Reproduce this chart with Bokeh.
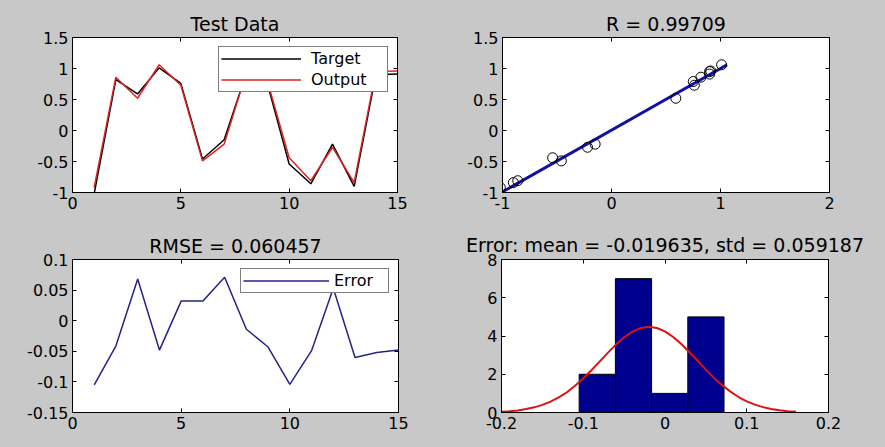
from bokeh.plotting import figure
from bokeh.layouts import column, row
from bokeh.models import (Range1d, FixedTicker, CustomJSTickFormatter, LinearAxis,
                          Legend, LegendItem)
from bokeh.embed import file_html
from bokeh.resources import INLINE

# ---------------- data ----------------
sample_idx = [1, 2, 3, 4, 5, 6, 7, 8, 9, 10, 11, 12, 13, 14, 15]
target = [-1.02, 0.82, 0.59, 1.01, 0.76, -0.46, -0.15, 0.90, 0.75, -0.54, -0.86, -0.22, -0.90, 0.90, 0.91]
output = [-0.92, 0.86, 0.52, 1.06, 0.73, -0.49, -0.22, 0.91, 0.79, -0.44, -0.81, -0.27, -0.84, 0.95, 0.96]
error = [-0.105, -0.041, 0.068, -0.048, 0.032, 0.032, 0.071, -0.014, -0.043,
         -0.104, -0.049, 0.053, -0.060, -0.052, -0.048]

fit_x = [-1.0, 1.06]
fit_y = [-0.99, 1.06]

hist_edges = [-0.105, -0.0607, -0.0164, 0.0279, 0.0722]
hist_counts = [2, 7, 1, 5]

norm_x = [-0.20, -0.19, -0.18, -0.17, -0.16, -0.15, -0.14, -0.13, -0.12, -0.11,
          -0.10, -0.09, -0.08, -0.07, -0.06, -0.05, -0.04, -0.03, -0.02, -0.01,
          0.00, 0.01, 0.02, 0.03, 0.04, 0.05, 0.06, 0.07, 0.08, 0.09,
          0.10, 0.11, 0.12, 0.13, 0.14, 0.15, 0.16]
norm_y = [0.04, 0.07, 0.11, 0.18, 0.27, 0.40, 0.57, 0.79, 1.06, 1.40,
          1.78, 2.21, 2.66, 3.12, 3.55, 3.93, 4.22, 4.41, 4.48, 4.42,
          4.24, 3.95, 3.58, 3.15, 2.70, 2.24, 1.81, 1.43, 1.09, 0.81,
          0.58, 0.41, 0.28, 0.18, 0.12, 0.07, 0.05]

tl_xticks = [0, 5, 10, 15]
tl_xlabels = ["0", "5", "10", "15"]
tl_yticks = [-1, -0.5, 0, 0.5, 1, 1.5]
tl_ylabels = ["-1", "-0.5", "0", "0.5", "1", "1.5"]
tr_xticks = [-1, 0, 1, 2]
tr_xlabels = ["-1", "0", "1", "2"]
bl_yticks = [-0.15, -0.1, -0.05, 0, 0.05, 0.1]
bl_ylabels = ["-0.15", "-0.1", "-0.05", "0", "0.05", "0.1"]
br_xticks = [-0.2, -0.1, 0, 0.1, 0.2]
br_xlabels = ["-0.2", "-0.1", "0", "0.1", "0.2"]
br_yticks = [0, 2, 4, 6, 8]
br_ylabels = ["0", "2", "4", "6", "8"]

title_tl = "Test Data"
title_tr = "R = 0.99709"
title_bl = "RMSE = 0.060457"
title_br = "Error: mean = -0.019635, std = 0.059187"

# ---------------- styling ----------------
FONT = "DejaVu Sans"
BG = "#c8c8c8"
TICK_FS = "16px"
TITLE_FS = "19px"


def fmt(ticks, labels):
    return CustomJSTickFormatter(args=dict(tv=ticks, lv=labels), code="""
        const i = tv.indexOf(tick);
        return i >= 0 ? lv[i] : tick.toString();
    """)


def style_axis(ax, ticks, labels, show_labels=True):
    ax.ticker = FixedTicker(ticks=ticks)
    ax.formatter = fmt(ticks, labels)
    ax.major_tick_in = 4
    ax.major_tick_out = 0
    ax.minor_tick_line_color = None
    ax.axis_line_color = "black"
    ax.major_tick_line_color = "black"
    ax.major_label_text_font = FONT
    if show_labels:
        ax.major_label_text_color = "black"
        ax.major_label_text_font_size = TICK_FS
        ax.major_label_standoff = 4
    else:
        ax.major_label_text_color = None
        ax.major_label_text_font_size = "1px"
        ax.major_label_standoff = 0
        ax.axis_line_color = None


def make_fig(xr, yr, w, h, left, right, top, bottom, title, tstand, xt, xl, yt, yl):
    p = figure(x_range=Range1d(*xr), y_range=Range1d(*yr), width=w, height=h,
               min_border_left=left, min_border_right=right,
               min_border_top=top, min_border_bottom=bottom,
               output_backend="svg", toolbar_location=None, tools="")
    p.border_fill_color = BG
    p.background_fill_color = "white"
    p.outline_line_color = "black"
    p.outline_line_width = 1
    p.grid.visible = False
    p.title.text = title
    p.title.align = "center"
    p.title.text_font = FONT
    p.title.text_font_size = TITLE_FS
    p.title.text_font_style = "normal"
    p.title.text_color = "black"
    p.title.standoff = tstand
    style_axis(p.xaxis[0], xt, xl)
    style_axis(p.yaxis[0], yt, yl)
    ax_top = LinearAxis()
    style_axis(ax_top, xt, xl, show_labels=False)
    p.add_layout(ax_top, "above")
    ax_right = LinearAxis()
    style_axis(ax_right, yt, yl, show_labels=False)
    p.add_layout(ax_right, "right")
    return p


def make_legend(items, gw, standoff, lw):
    return Legend(items=items, location="top_right", margin=9,
                  padding=2, spacing=2, label_height=19, glyph_height=19,
                  glyph_width=gw, label_standoff=standoff, label_width=lw,
                  border_line_color="black", border_line_width=1,
                  background_fill_color="white", background_fill_alpha=1,
                  label_text_font=FONT, label_text_font_size="16px",
                  label_text_color="black")


# Top-left: Test Data
p1 = make_fig((0, 15), (-1, 1.5), 445, 225, 72, 48, 37, 29, title_tl, 6,
              tl_xticks, tl_xlabels, tl_yticks, tl_ylabels)
r_t = p1.line(sample_idx, target, line_color="black", line_width=1.5)
r_o = p1.line(sample_idx, output, line_color="#dd2222", line_width=1.5)
p1.add_layout(make_legend([LegendItem(label="Target", renderers=[r_t]),
                           LegendItem(label="Output", renderers=[r_o])], 80, 10, 74))

# Top-right: regression
p2 = make_fig((-1, 2), (-1, 1.5), 440, 225, 57, 56, 35, 33, title_tr, 6,
              tr_xticks, tr_xlabels, tl_yticks, tl_ylabels)
p2.line(fit_x, fit_y, line_color="#1010a8", line_width=3)
p2.scatter(target, output, marker="circle", size=10, fill_color=None,
           line_color="black", line_width=1)

# Bottom-left: error
p3 = make_fig((0, 15), (-0.15, 0.1), 445, 222, 72, 47, 34, 29, title_bl, 6,
              tl_xticks, tl_xlabels, bl_yticks, bl_ylabels)
r_e = p3.line(sample_idx, error, line_color="#22228a", line_width=1.5)
p3.add_layout(make_legend([LegendItem(label="Error", renderers=[r_e])], 86, 5, 52))

# Bottom-right: histogram
p4 = make_fig((-0.2, 0.2), (0, 8), 440, 222, 56, 57, 32, 35, title_br, 7,
              br_xticks, br_xlabels, br_yticks, br_ylabels)
p4.quad(left=hist_edges[:-1], right=hist_edges[1:], bottom=0, top=hist_counts,
        fill_color="#00008f", line_color="black", line_width=1)
p4.line(norm_x, norm_y, line_color="#dd1111", line_width=2)

layout = column(row(p1, p2, background=BG), row(p3, p4, background=BG), background=BG)
open("out.html", "w").write(file_html(layout, INLINE))
